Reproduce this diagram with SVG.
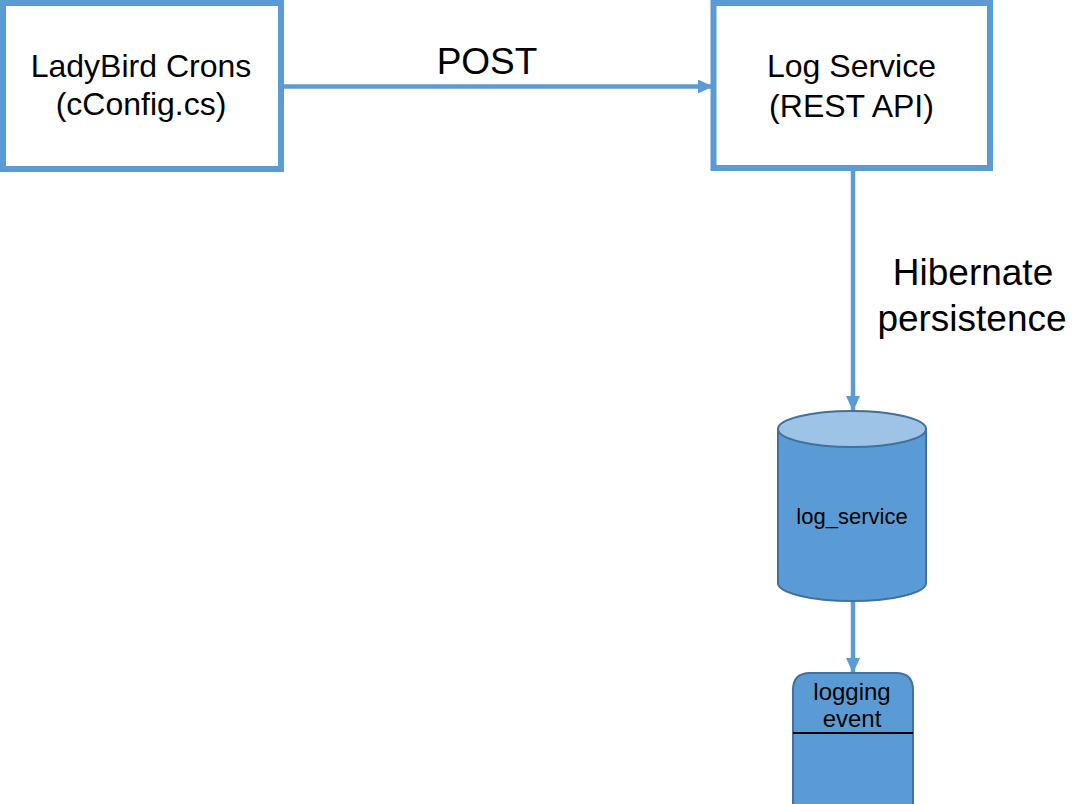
<svg xmlns="http://www.w3.org/2000/svg" width="1092" height="804" viewBox="0 0 1092 804">
  <style>
    .box { fill: #FFFFFF; stroke: #5B9BD5; stroke-width: 6; }
    .conn { stroke: #5B9BD5; stroke-width: 4.5; fill: none; }
    .boxtext { font-family: "Liberation Sans", Arial, sans-serif; font-size: 32px; fill: #000000; text-anchor: middle; }
    .label { font-family: "Liberation Sans", Arial, sans-serif; font-size: 37px; fill: #000000; text-anchor: middle; }
    .db { fill: #5B9BD5; stroke: #41719C; stroke-width: 2; }
    .dbtop { fill: #9DC3E6; stroke: #41719C; stroke-width: 2; }
    .small { font-family: "Liberation Sans", Arial, sans-serif; font-size: 22px; fill: #000000; text-anchor: middle; }
    .ent { font-family: "Liberation Sans", Arial, sans-serif; font-size: 24px; fill: #000000; text-anchor: middle; }
  </style>
  <defs>
    <marker id="arrow" markerUnits="userSpaceOnUse" markerWidth="15" markerHeight="14" refX="15" refY="7" orient="auto">
      <path d="M0,0 L15,7 L0,14 z" fill="#5B9BD5"/>
    </marker>
  </defs>
  <rect width="1092" height="804" fill="#FFFFFF"/>

  <g id="connectors">
    <line class="conn" x1="284" y1="86.5" x2="713" y2="86.5" marker-end="url(#arrow)"/>
    <line class="conn" x1="853" y1="171" x2="853" y2="411" marker-end="url(#arrow)"/>
    <line class="conn" x1="853" y1="601" x2="853" y2="673" marker-end="url(#arrow)"/>
    <text class="label" x="487" y="74">POST</text>
    <text class="label" x="973" y="285">Hibernate</text>
    <text class="label" x="972" y="331">persistence</text>
  </g>

  <g id="ladybird">
    <rect class="box" x="3" y="3" width="278" height="166"/>
    <text class="boxtext" x="141" y="77">LadyBird Crons</text>
    <text class="boxtext" x="141" y="115">(cConfig.cs)</text>
  </g>

  <g id="logservice">
    <rect class="box" x="713.5" y="3" width="276.5" height="165"/>
    <text class="boxtext" x="851.5" y="77">Log Service</text>
    <text class="boxtext" x="851.5" y="117">(REST API)</text>
  </g>

  <g id="log_service_db">
    <path class="db" d="M778,429 L778,583 A74,18 0 0 0 926,583 L926,429 Z"/>
    <ellipse class="dbtop" cx="852" cy="429" rx="74" ry="18"/>
    <text class="small" x="852" y="524">log_service</text>
  </g>

  <g id="logging_event">
    <path class="db" d="M793,810 L793,690 Q793,673 810,673 L896,673 Q913,673 913,690 L913,810 Z"/>
    <line x1="793" y1="733" x2="913" y2="733" stroke="#000000" stroke-width="2"/>
    <text class="ent" x="852" y="700">logging</text>
    <text class="ent" x="852" y="727">event</text>
  </g>
</svg>
